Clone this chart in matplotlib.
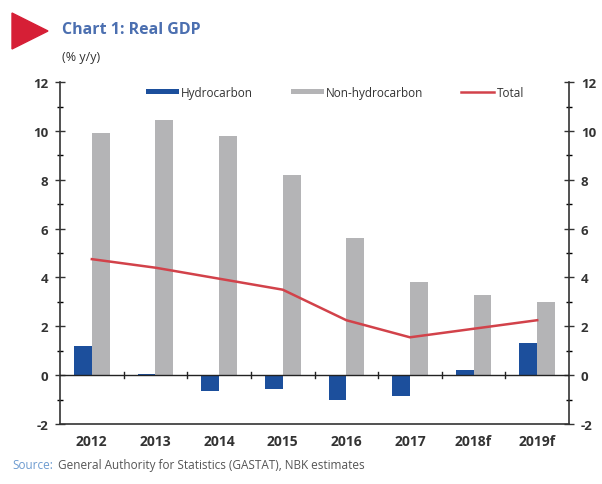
import matplotlib
matplotlib.use("Agg")
import matplotlib.pyplot as plt
from matplotlib.patches import Polygon
from matplotlib.ticker import MultipleLocator

years = ["2012", "2013", "2014", "2015", "2016", "2017", "2018f", "2019f"]
hydrocarbon = [1.2, 0.05, -0.65, -0.55, -1.0, -0.87, 0.2, 1.3]
non_hydrocarbon = [9.9, 10.45, 9.8, 8.2, 5.6, 3.8, 3.3, 3.0]
total = [4.75, 4.4, 3.95, 3.5, 2.25, 1.55, 1.9, 2.25]

BLUE = "#1c4f9c"
GREY = "#b4b4b6"
RED = "#d2424a"
TXT = "#333333"

plt.rcParams["font.family"] = ["Open Sans", "DejaVu Sans"]
plt.rcParams["axes.unicode_minus"] = False

fig = plt.figure(figsize=(6.02, 4.85), dpi=100)
ax = fig.add_axes([0.0997, 0.1237, 0.8455, 0.705])

x = list(range(len(years)))
w = 0.28
h1 = ax.bar([i - w / 2 for i in x], hydrocarbon, width=w, color=BLUE, label="Hydrocarbon", zorder=2)
h2 = ax.bar([i + w / 2 for i in x], non_hydrocarbon, width=w, color=GREY, label="Non-hydrocarbon", zorder=2)
h3, = ax.plot(x, total, color=RED, lw=1.8, label="Total", zorder=3)

ax.axhline(0, color="#222222", lw=1.0, zorder=4)
# category boundary ticks on the zero line
for b in [i + 0.5 for i in x[:-1]]:
    ax.plot([b, b], [-0.12, 0.12], color="#222222", lw=1.0, zorder=4)

ax.set_xlim(-0.5, 7.5)
ax.set_ylim(-2, 12)
ax.set_xticks(x)
ax.set_xticklabels(years)
ax.tick_params(axis="x", length=0, pad=7, labelsize=10, colors=TXT)
ax.yaxis.set_major_locator(MultipleLocator(2))
ax.yaxis.set_minor_locator(MultipleLocator(1))
ax.tick_params(axis="y", which="major", direction="inout", length=7, width=1,
               labelsize=9.5, colors=TXT, left=True, right=True,
               labelleft=True, labelright=True, pad=5)
ax.tick_params(axis="y", which="minor", direction="inout", length=4, width=1,
               left=True, right=True)
for lab in ax.get_xticklabels() + ax.get_yticklabels():
    lab.set_fontweight("bold")
for lab in ax.yaxis.get_ticklabels(which="major"):
    lab.set_fontweight("bold")

ax.spines["top"].set_visible(False)
for s in ["left", "right", "bottom"]:
    ax.spines[s].set_color("#333333")
    ax.spines[s].set_linewidth(1.2)

leg = ax.legend([h1, h2, h3], ["Hydrocarbon", "Non-hydrocarbon", "Total"],
                loc="upper center", ncol=3, frameon=False, fontsize=8.5,
                bbox_to_anchor=(0.54, 1.02), handlelength=2.8, handleheight=0.35,
                columnspacing=3.2, handletextpad=0.2)
for t in leg.get_texts():
    t.set_color(TXT)

# header
tri = Polygon([[12 / 602, 1 - 14 / 485], [12 / 602, 1 - 50 / 485], [48 / 602, 1 - 32 / 485]],
              closed=True, transform=fig.transFigure, color="#d61f36")
fig.patches.append(tri)
fig.text(62 / 602, 1 - 30 / 485, "Chart 1: Real GDP", color="#4b6fb0", fontsize=11.5,
         fontweight="bold", va="center", ha="left")
fig.text(62 / 602, 1 - 58 / 485, "(% y/y)", color=TXT, fontsize=9, va="center", ha="left")
fig.text(12 / 602, 1 - 466 / 485, "Source:", color="#6d9bd0", fontsize=8.5, va="center", ha="left")
fig.text(58 / 602, 1 - 466 / 485, "General Authority for Statistics (GASTAT), NBK estimates",
         color="#555555", fontsize=8.5, va="center", ha="left")

fig.savefig("out.png", dpi=100)
